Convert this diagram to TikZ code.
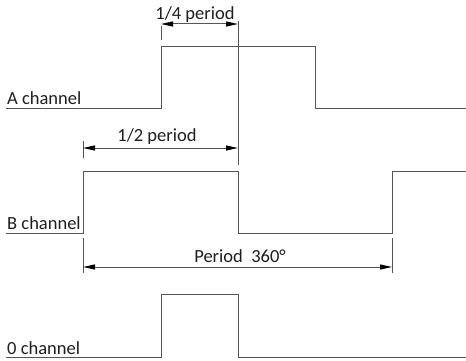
\documentclass[tikz,border=0pt]{standalone}
\usepackage{fontspec}
\setmainfont{Carlito}
\usetikzlibrary{arrows.meta}
\definecolor{wavegray}{HTML}{555555}
\definecolor{labelink}{HTML}{1E1E1E}
\newcommand{\wavecolor}{wavegray}
\newcommand{\wavewidth}{1pt}
\newcommand{\labelsize}{\fontsize{18.5}{20}\selectfont}

\begin{document}
\begin{tikzpicture}[x=1pt,y=-1pt,
  wave/.style={\wavecolor, line width=\wavewidth},
  extline/.style={\wavecolor, line width=\wavewidth},
  dimline/.style={\wavecolor, line width=\wavewidth, {Triangle[length=12pt,width=5pt,black]}-{Triangle[length=12pt,width=5pt,black]}},
  chlabel/.style={anchor=base west, inner sep=0pt, text=labelink, font=\labelsize},
  dimlabel/.style={inner sep=0pt, text=labelink, font=\labelsize}]
\useasboundingbox (0,0) rectangle (466,361);
% channels
\draw[wave] (6,108) -- (161,108) -- (161,47) -- (315,47) -- (315,108) -- (466,108);
\draw[wave] (6,233) -- (83,233) -- (83,171) -- (238,171) -- (238,233) -- (392,233) -- (392,171) -- (466,171);
\draw[wave] (6,357) -- (161,357) -- (161,294) -- (238,294) -- (238,357) -- (466,357);
\node[chlabel] (achan) at (7,104.5) {A channel};
\node[chlabel] (bchan) at (7,229.5) {B channel};
\node[chlabel] (ochan) at (7,354) {0 channel};
% 1/4 period
\coordinate (q1) at (161,24);
\coordinate (q2) at (238,24);
\draw[extline] (161,26) -- (161,40);
\draw[extline] (238,21) -- (238,165);
\draw[dimline] (q1) -- (q2);
\node[dimlabel] (quarter) at (195,15) {1/4 period};
% 1/2 period
\coordinate (h1) at (83,148);
\coordinate (h2) at (238,148);
\draw[extline] (83,141) -- (83,158);
\draw[dimline] (h1) -- (h2);
\node[dimlabel] (half) at (157,137) {1/2 period};
% full period
\coordinate (p1) at (83,267);
\coordinate (p2) at (392,267);
\draw[extline] (83,238) -- (83,273);
\draw[extline] (392,238) -- (392,273);
\draw[dimline] (p1) -- (p2);
\node[dimlabel] (full) at (240,256) {Period\ \ 360°};
\end{tikzpicture}
\end{document}
